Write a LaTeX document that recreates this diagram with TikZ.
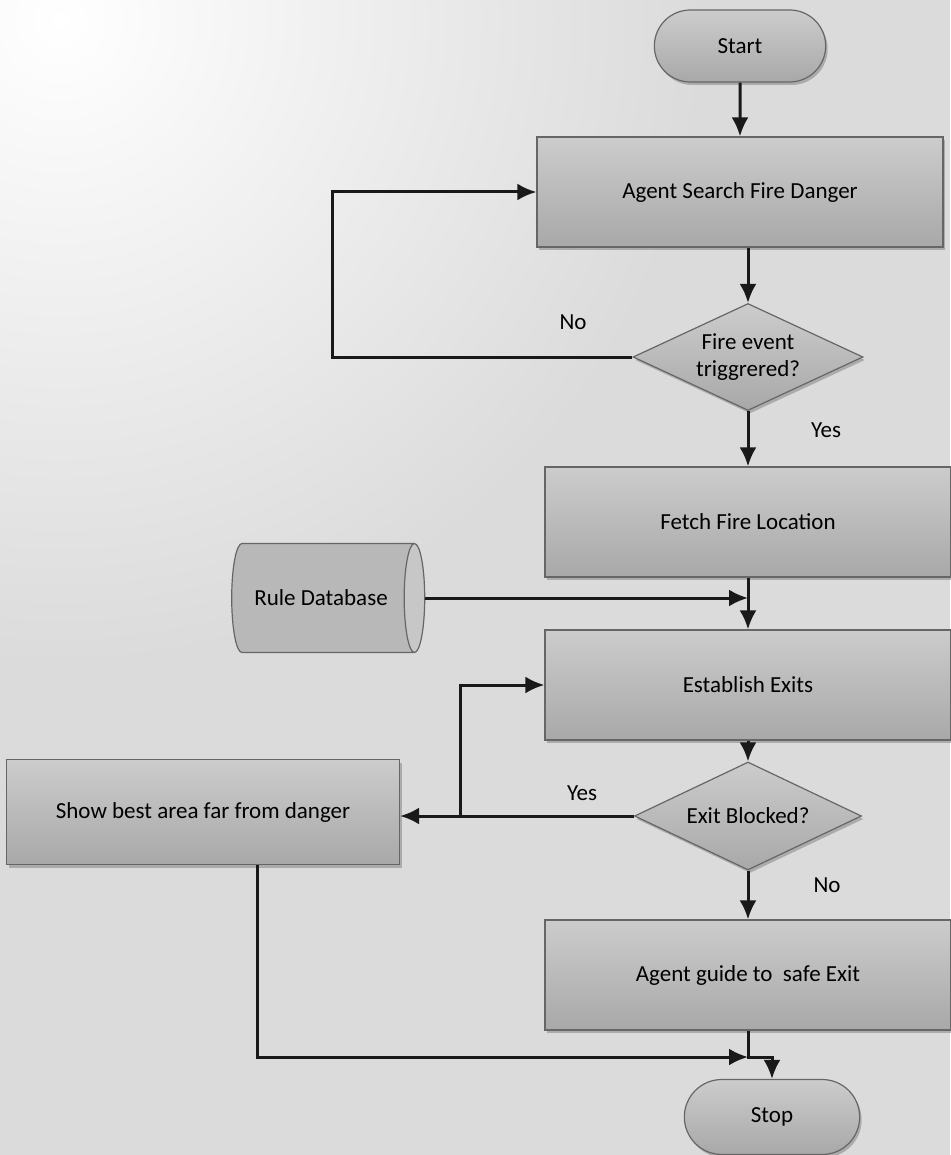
\documentclass[tikz,border=0pt]{standalone}
\usepackage{fontspec}
\setmainfont{Carlito}
\usetikzlibrary{shapes.geometric,shapes.misc,arrows.meta,shadows,calc}
\begin{document}
\begin{tikzpicture}[x=1pt,y=-1pt,
  every node/.style={font=\fontsize{23}{27}\selectfont, text=black},
  shade/.style={top color=black!20, bottom color=black!34},
  outline/.style={draw=black!60, line width=1.2pt},
  shad/.style={drop shadow={shadow xshift=2pt,shadow yshift=-3pt,fill=black!45,opacity=0.6}},
  proc/.style={rectangle, outline, shade, shad, minimum width=406pt, minimum height=110pt},
  term/.style={rounded rectangle, outline, shade, shad, minimum width=178pt, minimum height=72pt},
  decision/.style={diamond, outline, shade, shad, aspect=2.15, minimum width=230pt, minimum height=107pt, inner sep=-14pt, align=center},
  store/.style={cylinder, outline, shape aspect=0.9, minimum width=109pt, minimum height=193pt,
     cylinder uses custom fill, cylinder body fill=black!28, cylinder end fill=black!22},
  conn/.style={line width=3pt, black!90, -{Latex[length=19pt,width=17pt]}},
  lbl/.style={font=\fontsize{23}{27}\selectfont}
]
% background
\useasboundingbox (0,0) rectangle (950,1155);
\fill[black!14] (0,0) rectangle (950,1155);
\shade[inner color=white, outer color=black!14] (60,20) circle (640);

% nodes
\node[term] (start) at (740,46) {Start};
\node[proc] (search) at (740,192) {Agent Search Fire Danger};
\node[decision] (d1) at (748,357) {Fire event\\triggrered?};
\node[proc] (fetch) at (748,522) {Fetch Fire Location};
\node[store] (db) at (321,598) {Rule Database};
\node[proc] (est) at (748,685) {Establish Exits};
\node[decision, minimum width=227pt, minimum height=108pt] (d2) at (748,816) {Exit Blocked?};
\node[proc, minimum width=393pt, minimum height=105pt] (show) at (203,812) {Show best area far from danger};
\node[proc] (guide) at (748,975) {Agent guide to\ \ safe Exit};
\node[term, minimum width=182pt, minimum height=75pt] (stop) at (772,1117) {Stop};

% helper coordinates
\coordinate (loopx) at (332,0);
\coordinate (br) at (460,816);
\coordinate (merge) at (748,1057);
\coordinate (showout) at (257,865);

% labels
\node[lbl] (no1) at (573,322) {No};
\node[lbl] (yes1) at (826,430) {Yes};
\node[lbl] (yes2) at (582,793) {Yes};
\node[lbl] (no2) at (827,885) {No};

% connectors
\draw[conn] (start) -- (search.north -| start);
\draw[conn] (search.south -| d1.north) -- (d1.north);
\draw[conn] (d1.west) -- (d1.west -| loopx) |- (search.west);
\draw[conn] (d1.south) -- (fetch.north);
\draw[conn] (fetch.south) -- (est.north);
\draw[conn] (db.east) -- (db.east -| est.north);
\draw[conn] (est.south) -- (d2.north);
\draw[conn] (d2.west) -- (d2.west -| show.east);
\draw[conn] (br) |- (est.west);
\draw[conn] (d2.south) -- (guide.north);
\draw[conn] (showout) |- (merge);
\draw[conn] (guide.south) -- (merge) -| (stop.north);
\end{tikzpicture}
\end{document}
